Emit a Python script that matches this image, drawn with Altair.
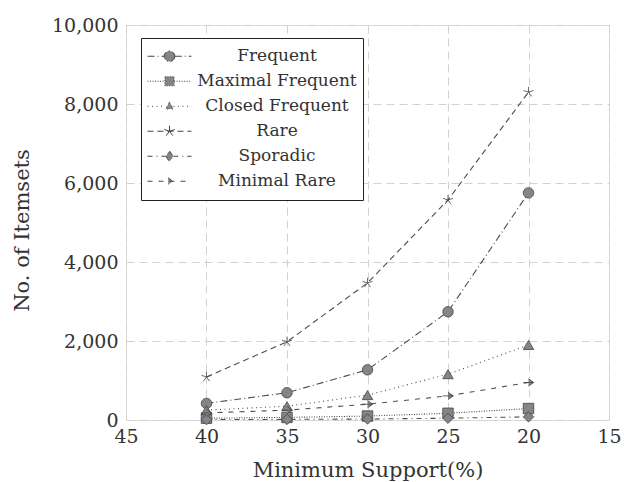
import altair as alt
import pandas as pd

# ---- data ----
support = [40, 35, 30, 25, 20]
series_names = ["Frequent", "Maximal Frequent", "Closed Frequent", "Rare", "Sporadic", "Minimal Rare"]
frequent = [420, 690, 1270, 2740, 5750]
maximal_frequent = [45, 65, 100, 170, 290]
closed_frequent = [250, 350, 630, 1160, 1900]
rare = [1090, 1980, 3470, 5570, 8300]
sporadic = [10, 15, 25, 45, 80]
minimal_rare = [180, 250, 400, 610, 950]

x_ticks = [45, 40, 35, 30, 25, 20, 15]
y_ticks = [0, 2000, 4000, 6000, 8000, 10000]

values = [frequent, maximal_frequent, closed_frequent, rare, sporadic, minimal_rare]
rows = []
for name, vals in zip(series_names, values):
    for s, v in zip(support, vals):
        rows.append({"support": s, "count": v, "series": name, "marker": name})
df = pd.DataFrame(rows)

# styles
dashes = [[7, 3, 1, 3], [1, 1.5], [1, 3.5], [6, 4], [5, 4, 1, 4], [5, 6]]
star = "M0,0L0,-1M0,0L0.951,-0.309M0,0L0.588,0.809M0,0L-0.588,0.809M0,0L-0.951,-0.309"
arrow = "M-1,0L1,0M0,-0.7L1,0L0,0.7"
shapes = ["circle", "square", "triangle-up", star, "diamond", arrow]

legend_paths = {
    "Frequent": "M-1,0L-0.24,0M0.24,0L1,0M0.24,0A0.24,0.24 0 1,1 -0.24,0A0.24,0.24 0 1,1 0.24,0Z",
    "Maximal Frequent": "M-1,0L-0.21,0M0.21,0L1,0M-0.21,-0.21L0.21,-0.21L0.21,0.21L-0.21,0.21Z",
    "Closed Frequent": "M-1,0L-0.18,0M0.18,0L1,0M0,-0.2L0.18,0.13L-0.18,0.13Z",
    "Rare": "M-1,0L1,0M0,0L0,-0.25M0,0L0.24,-0.077M0,0L0.147,0.2M0,0L-0.147,0.2M0,0L-0.24,-0.077",
    "Sporadic": "M-1,0L-0.17,0M0.17,0L1,0M0,-0.24L0.17,0L0,0.24L-0.17,0Z",
    "Minimal Rare": "M-1,0L1,0M-0.06,-0.16L0.14,0L-0.06,0.16",
}
expr = ""
for k, p in legend_paths.items():
    expr += f"datum.value === '{k}' ? '{p}' : "
expr += "'circle'"

FONT = "DejaVu Serif"
TEXT = "#333333"
LINE = "#4d4d4d"

x_enc = alt.X(
    "support:Q",
    scale=alt.Scale(domain=[45, 15], nice=False),
    axis=alt.Axis(
        values=x_ticks, title="Minimum Support(%)", format="d",
        labelFont=FONT, labelFontSize=19, labelColor=TEXT, labelPadding=7,
        titleFont=FONT, titleFontSize=21, titleFontWeight="normal", titleColor=TEXT,
        titleBaseline="middle", titleY=50,
        ticks=False, domain=False,
        grid=True, gridDash=[8, 5], gridColor="#d2d2d2", gridWidth=1,
        labelFlush=False,
    ),
)
y_enc = alt.Y(
    "count:Q",
    scale=alt.Scale(domain=[0, 10000], nice=False),
    axis=alt.Axis(
        values=y_ticks, title="No. of Itemsets", format=",d",
        labelFont=FONT, labelFontSize=19, labelColor=TEXT, labelPadding=8,
        titleFont=FONT, titleFontSize=21, titleFontWeight="normal", titleColor=TEXT,
        titleAngle=-90, titleAlign="center", titleBaseline="middle", titleX=-104, titleY=205,
        ticks=False, domain=False,
        grid=True, gridDash=[8, 5], gridColor="#d2d2d2", gridWidth=1,
        labelFlush=False,
    ),
)

lines = alt.Chart(df).mark_line(color=LINE, strokeWidth=1.1).encode(
    x=x_enc,
    y=y_enc,
    strokeDash=alt.StrokeDash(
        "series:N",
        scale=alt.Scale(domain=series_names, range=dashes),
        legend=alt.Legend(
            title=None, orient="none", legendX=15, legendY=13,
            labelFont=FONT, labelFontSize=17, labelColor=TEXT,
            labelAlign="center", labelOffset=85, labelLimit=400,
            symbolSize=1936, symbolStrokeWidth=1,
            symbolType={"expr": expr},
            symbolFillColor="#858585", symbolStrokeColor="#444444", symbolOpacity=1,
            clipHeight=24.5, rowPadding=0,
            padding=6, strokeColor="#222222", fillColor="white", cornerRadius=0,
        ),
    ),
)

points = alt.Chart(df).mark_point(
    filled=True, size=110, opacity=1, fill="#858585", stroke="#444444", strokeWidth=0.8
).encode(
    x="support:Q",
    y="count:Q",
    shape=alt.Shape("marker:N", scale=alt.Scale(domain=series_names, range=shapes), legend=None),
)

chart = alt.layer(lines, points).resolve_legend(shape="independent", strokeDash="independent").properties(
    width=483,
    height=395,
    padding={"left": 126, "top": 25, "right": 15, "bottom": 62},
    autosize=alt.AutoSizeParams(type="none"),
).configure_view(
    stroke="#333333", strokeWidth=1.3
).configure(background="white")

chart.save("out.html", embed_options={"renderer": "svg", "actions": False})
